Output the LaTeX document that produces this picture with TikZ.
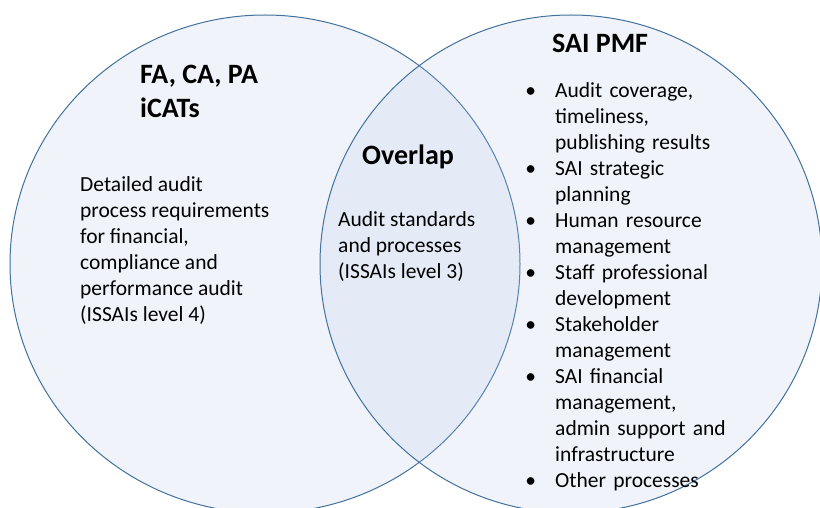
\documentclass[tikz,border=0pt]{standalone}
\usepackage{fontspec}
\setmainfont{Carlito}
\usepackage{enumitem}
\usetikzlibrary{positioning}

\definecolor{vennfill}{HTML}{B4C7E7}
\definecolor{vennline}{HTML}{41719C}

\tikzset{
  venn/.style={fill=vennfill, fill opacity=0.2, draw=vennline, line width=1pt},
  head/.style={font=\fontsize{28}{34}\selectfont\bfseries, align=left, inner sep=0pt},
  body/.style={font=\fontsize{21.5}{26}\selectfont, align=left, inner sep=0pt},
}

\begin{document}
\begin{tikzpicture}[x=1pt, y=-1pt]
  \useasboundingbox (0,0) rectangle (820,508);

  % the two sets
  \draw[venn] (265,264) ellipse [x radius=255, y radius=249];
  \draw[venn] (571,264) ellipse [x radius=251, y radius=249];

  % left set
  \node[head, anchor=north west] (icat) at (140,65) {FA, CA, PA\\iCATs};
  \node[body, anchor=north west] (icatbody) at (80,176)
    {Detailed audit\\process requirements\\for financial,\\compliance and\\performance audit\\(ISSAIs level 4)};

  % common part
  \node[head, anchor=base west] (overlap) at (362,165) {Overlap};
  \node[body, anchor=north west] (overlapbody) at (338,211)
    {Audit standards\\and processes\\(ISSAIs level 3)};

  % right set
  \node[head, anchor=base west] (pmf) at (552,53) {SAI PMF};
  \node[body, anchor=north west, text width=260pt] (pmfbody) at (532,71) {%
    \raggedright
    \begin{itemize}[label=\textbullet, leftmargin=23pt, labelsep=19pt, labelwidth=4pt,
                    topsep=0pt, itemsep=0pt, parsep=0pt, partopsep=0pt]
      \item Audit coverage,\\ timeliness,\\ publishing results
      \item SAI strategic\\ planning
      \item Human resource\\ management
      \item Staff professional\\ development
      \item Stakeholder\\ management
      \item SAI financial\\ management,\\ admin support and\\ infrastructure
      \item Other processes
    \end{itemize}};
\end{tikzpicture}
\end{document}
